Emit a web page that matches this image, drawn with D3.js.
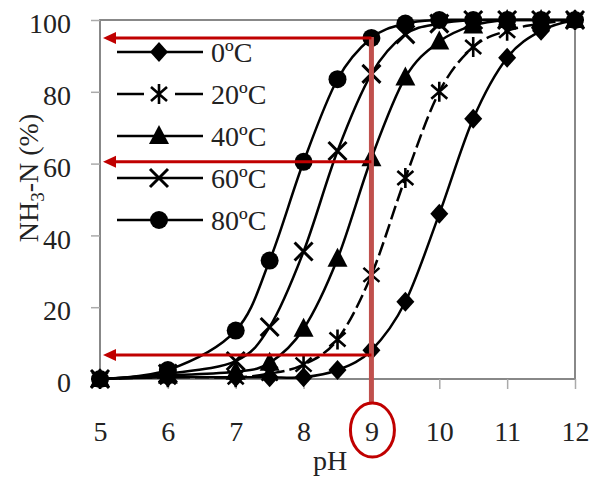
<!DOCTYPE html>
<html>
<head>
<meta charset="utf-8">
<script src="https://cdn.jsdelivr.net/npm/d3@7"></script>
<style>
  body { margin: 0; background: #fff; }
  text { font-family: "Liberation Serif", "DejaVu Serif", serif; fill: #222; }
</style>
</head>
<body>
<svg width="595" height="480"></svg>
<script>
// datos
var pH = [5, 6, 7, 7.5, 8, 8.5, 9, 9.5, 10, 10.5, 11, 11.5, 12];
var t0 = [0, 0.5, 0.5, 0.5, 0.5, 2.5, 8, 21.5, 46, 72.5, 89.5, 97, 100];
var t20 = [0, 0.5, 0.5, 1.5, 4, 11, 29, 56, 80, 92.5, 97, 99, 100];
var t40 = [0, 1, 2, 4.5, 14, 33.5, 61.5, 84, 94, 98.5, 100, 100, 100];
var t60 = [0, 1.5, 5, 14.5, 35.5, 63.5, 85, 96, 99, 100, 100, 100, 100];
var t80 = [0, 2.5, 13.5, 33, 60.5, 83.5, 95, 99, 100, 100, 100, 100, 100];
var seriesNames = ["0ºC", "20ºC", "40ºC", "60ºC", "80ºC"];
var xTicks = [5, 6, 7, 8, 9, 10, 11, 12];
var yTicks = [0, 20, 40, 60, 80, 100];
var markLevels = [95, 60.5, 6.7]; // flechas rojas a pH 9
var markPH = 9;

var svg = d3.select("svg");
var x = d3.scaleLinear().domain([5, 12]).range([100, 575]);
var y = d3.scaleLinear().domain([0, 100]).range([379, 20]);

var series = [t0, t20, t40, t60, t80].map(function(vals, i) {
  return { name: seriesNames[i], kind: ["diamond", "star", "triangle", "x", "circle"][i],
           pts: vals.map(function(v, j) { return [pH[j], v]; }) };
});

// marco
svg.append("rect").attr("x", x(5)).attr("y", y(100))
  .attr("width", x(12) - x(5)).attr("height", y(0) - y(100))
  .attr("fill", "none").attr("stroke", "#888").attr("stroke-width", 2);

// ejes
var gx = svg.append("g").attr("transform", "translate(0," + y(0) + ")")
  .call(d3.axisBottom(x).tickValues(xTicks).tickFormat(d3.format("d")).tickSize(10).tickPadding(32));
var gy = svg.append("g").attr("transform", "translate(" + x(5) + ",0)")
  .call(d3.axisLeft(y).tickValues(yTicks).tickFormat(d3.format("d")).tickSize(9).tickPadding(20));
[gx, gy].forEach(function(g) {
  g.select(".domain").remove();
  g.selectAll(".tick line").attr("stroke", "#aaa").attr("stroke-width", 1.5);
  g.selectAll(".tick text").style("font-family", "Liberation Serif, serif")
    .style("font-size", "28px").attr("fill", "#222");
});
gy.selectAll(".tick text").attr("dy", "0.45em");

svg.append("text").attr("x", 330).attr("y", 470).attr("text-anchor", "middle")
  .style("font-size", "28px").text("pH");
var yt = svg.append("text").attr("transform", "translate(38,178) rotate(-90)")
  .attr("text-anchor", "middle").style("font-size", "28px");
yt.append("tspan").text("NH");
yt.append("tspan").attr("dy", 6).style("font-size", "19px").text("3");
yt.append("tspan").attr("dy", -6).text("-N (%)");

// marcadores
function marker(g, kind) {
  if (kind === "diamond") {
    g.append("path").attr("d", "M0,-10L9,0L0,10L-9,0Z").attr("fill", "#000");
  } else if (kind === "circle") {
    g.append("circle").attr("r", 9).attr("fill", "#000");
  } else if (kind === "triangle") {
    g.append("path").attr("d", "M0,-11L10,8L-10,8Z").attr("fill", "#000");
  } else if (kind === "x") {
    g.append("path").attr("d", "M-9,-9L9,9M-9,9L9,-9").attr("stroke", "#000").attr("stroke-width", 3);
  } else {
    g.append("path").attr("d", "M0,-10L0,10M-8,-7L8,7M-8,7L8,-7").attr("stroke", "#000").attr("stroke-width", 2.6);
  }
}

var line = d3.line().x(function(d) { return x(d[0]); }).y(function(d) { return y(d[1]); })
  .curve(d3.curveCardinal.tension(0));

series.forEach(function(s) {
  svg.append("path").datum(s.pts).attr("d", line).attr("fill", "none")
    .attr("stroke", "#000").attr("stroke-width", 2.5)
    .attr("stroke-dasharray", s.kind === "star" ? "14,5" : null);
});
series.forEach(function(s) {
  s.pts.forEach(function(p) {
    marker(svg.append("g").attr("transform", "translate(" + x(p[0]) + "," + y(p[1]) + ")"), s.kind);
  });
});

// leyenda
series.forEach(function(s, i) {
  var ly = 52 + i * 42;
  var g = svg.append("g");
  if (s.kind === "star") {
    g.append("line").attr("x1", 117).attr("x2", 144).attr("y1", ly).attr("y2", ly).attr("stroke", "#000").attr("stroke-width", 2.5);
    g.append("line").attr("x1", 175).attr("x2", 203).attr("y1", ly).attr("y2", ly).attr("stroke", "#000").attr("stroke-width", 2.5);
  } else {
    g.append("line").attr("x1", 117).attr("x2", 203).attr("y1", ly).attr("y2", ly).attr("stroke", "#000").attr("stroke-width", 2.5);
  }
  marker(g.append("g").attr("transform", "translate(159," + ly + ")"), s.kind);
  g.append("text").attr("x", 211).attr("y", ly + 10).style("font-size", "28px").text(s.name);
});

// anotaciones rojas
var xm = x(markPH);
svg.append("line").attr("x1", xm).attr("x2", xm).attr("y1", y(markLevels[0]) - 1).attr("y2", 403)
  .attr("stroke", "#c0504d").attr("stroke-width", 5);
markLevels.forEach(function(v) {
  var yy = y(v);
  svg.append("line").attr("x1", 112).attr("x2", xm).attr("y1", yy).attr("y2", yy)
    .attr("stroke", "#c00000").attr("stroke-width", 3);
  svg.append("path").attr("d", "M103," + yy + "L116," + (yy - 6) + "L116," + (yy + 6) + "Z")
    .attr("fill", "#c00000");
});
svg.append("ellipse").attr("cx", xm + 1).attr("cy", 430).attr("rx", 22).attr("ry", 27)
  .attr("fill", "none").attr("stroke", "#c00000").attr("stroke-width", 3);
</script>
</body>
</html>
